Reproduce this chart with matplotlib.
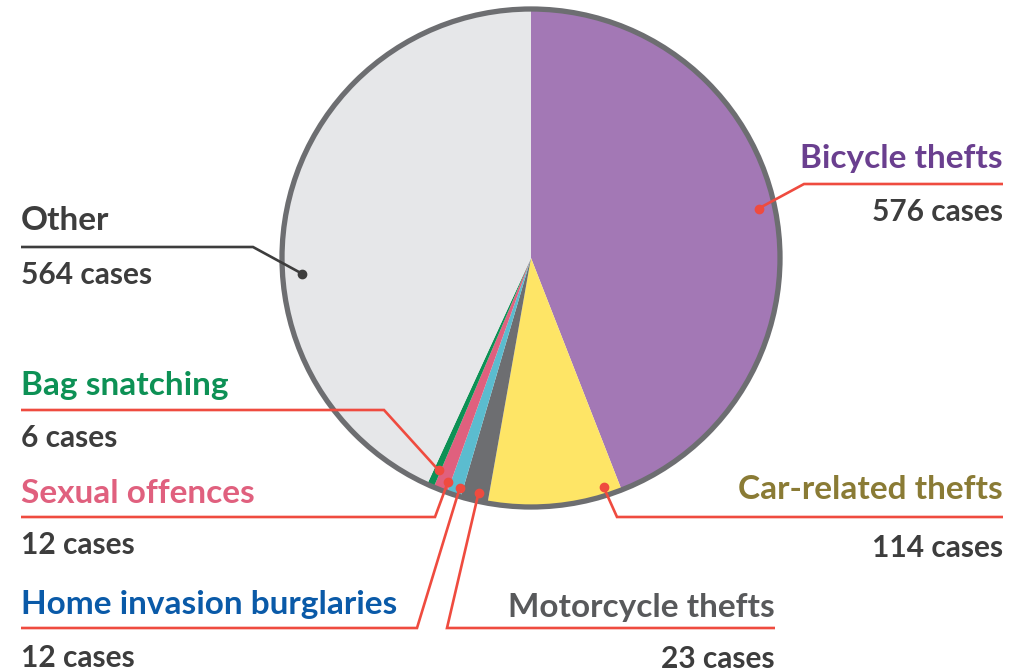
import matplotlib
matplotlib.use("Agg")
import matplotlib.pyplot as plt
from matplotlib.patches import Circle
import numpy as np

# ---- data ----
categories = ["Bicycle thefts", "Car-related thefts", "Motorcycle thefts",
              "Home invasion burglaries", "Sexual offences", "Bag snatching", "Other"]
cases = [576, 114, 23, 12, 12, 6, 564]
wedge_colors = ["#a378b5", "#fee566", "#6d6e71", "#5bbccf", "#e0607e", "#0d9155", "#e6e7e9"]
label_colors = ["#6a3f8f", "#8a7b35", "#58595b", "#0a5aa8", "#e0607e", "#0d9155", "#3d3d3d"]

# ---- layout (pixels) ----
W, H = 1022, 672
CX, CY, R = 531, 258, 249
# side, text x, name baseline, line y, elbow x, count baseline, dot angle frac, dot radius frac
layout = {
    "Bicycle thefts":           ("right", 1003, 168, 184, 804, 221, 0.49, 0.935),
    "Car-related thefts":       ("right", 1003, 499, 517, 617, 557, 0.12, 0.965),
    "Motorcycle thefts":        ("right", 775, 617, 628, 447, 668, 0.40, 0.965),
    "Home invasion burglaries": ("left", 21, 614, 628, 417, 667, 0.25, 0.965),
    "Sexual offences":          ("left", 21, 503, 517, 435, 554, 0.20, 0.96),
    "Bag snatching":            ("left", 21, 395, 410, 384, 447, 0.30, 0.93),
    "Other":                    ("left", 21, 230, 247, 253, 284, 0.395, 0.92),
}
RED = "#ef4b3f"
DARK = "#3d3d3d"
FONT = "Lato"
FS = 24
FS_COUNT = 21.5

fig = plt.figure(figsize=(W / 100, H / 100), dpi=100)
ax = fig.add_axes([0, 0, 1, 1])

wedges, _ = ax.pie(cases, colors=wedge_colors, startangle=270, counterclock=True,
                   radius=R, center=(CX, CY), wedgeprops=dict(linewidth=0))
ax.add_patch(Circle((CX, CY), R, fill=False, edgecolor="#6d6e71", linewidth=3.8, zorder=3))

ax.set_xlim(0, W)
ax.set_ylim(H, 0)
ax.set_aspect("equal")
ax.axis("off")

for w, name, n, lc in zip(wedges, categories, cases, label_colors):
    side, tx, nb, ly, ex, cb, af, rf = layout[name]
    th = np.deg2rad(w.theta1 + af * (w.theta2 - w.theta1))
    dx, dy = CX + rf * R * np.cos(th), CY + rf * R * np.sin(th)
    col = DARK if name == "Other" else RED
    ax.plot([tx, ex, dx], [ly, ly, dy], color=col, linewidth=1.9, zorder=4,
            solid_capstyle="butt", solid_joinstyle="miter")
    ax.plot([dx], [dy], "o", color=col, markersize=6, zorder=5)
    ha = "left" if side == "left" else "right"
    ax.text(tx, nb, name, color=lc, fontsize=FS, fontweight="bold", family=FONT,
            ha=ha, va="baseline")
    ax.text(tx, cb, f"{n} cases", color=DARK, fontsize=FS_COUNT, fontweight="bold",
            family=FONT, ha=ha, va="baseline")

fig.savefig("out.png", dpi=100, facecolor="white")
